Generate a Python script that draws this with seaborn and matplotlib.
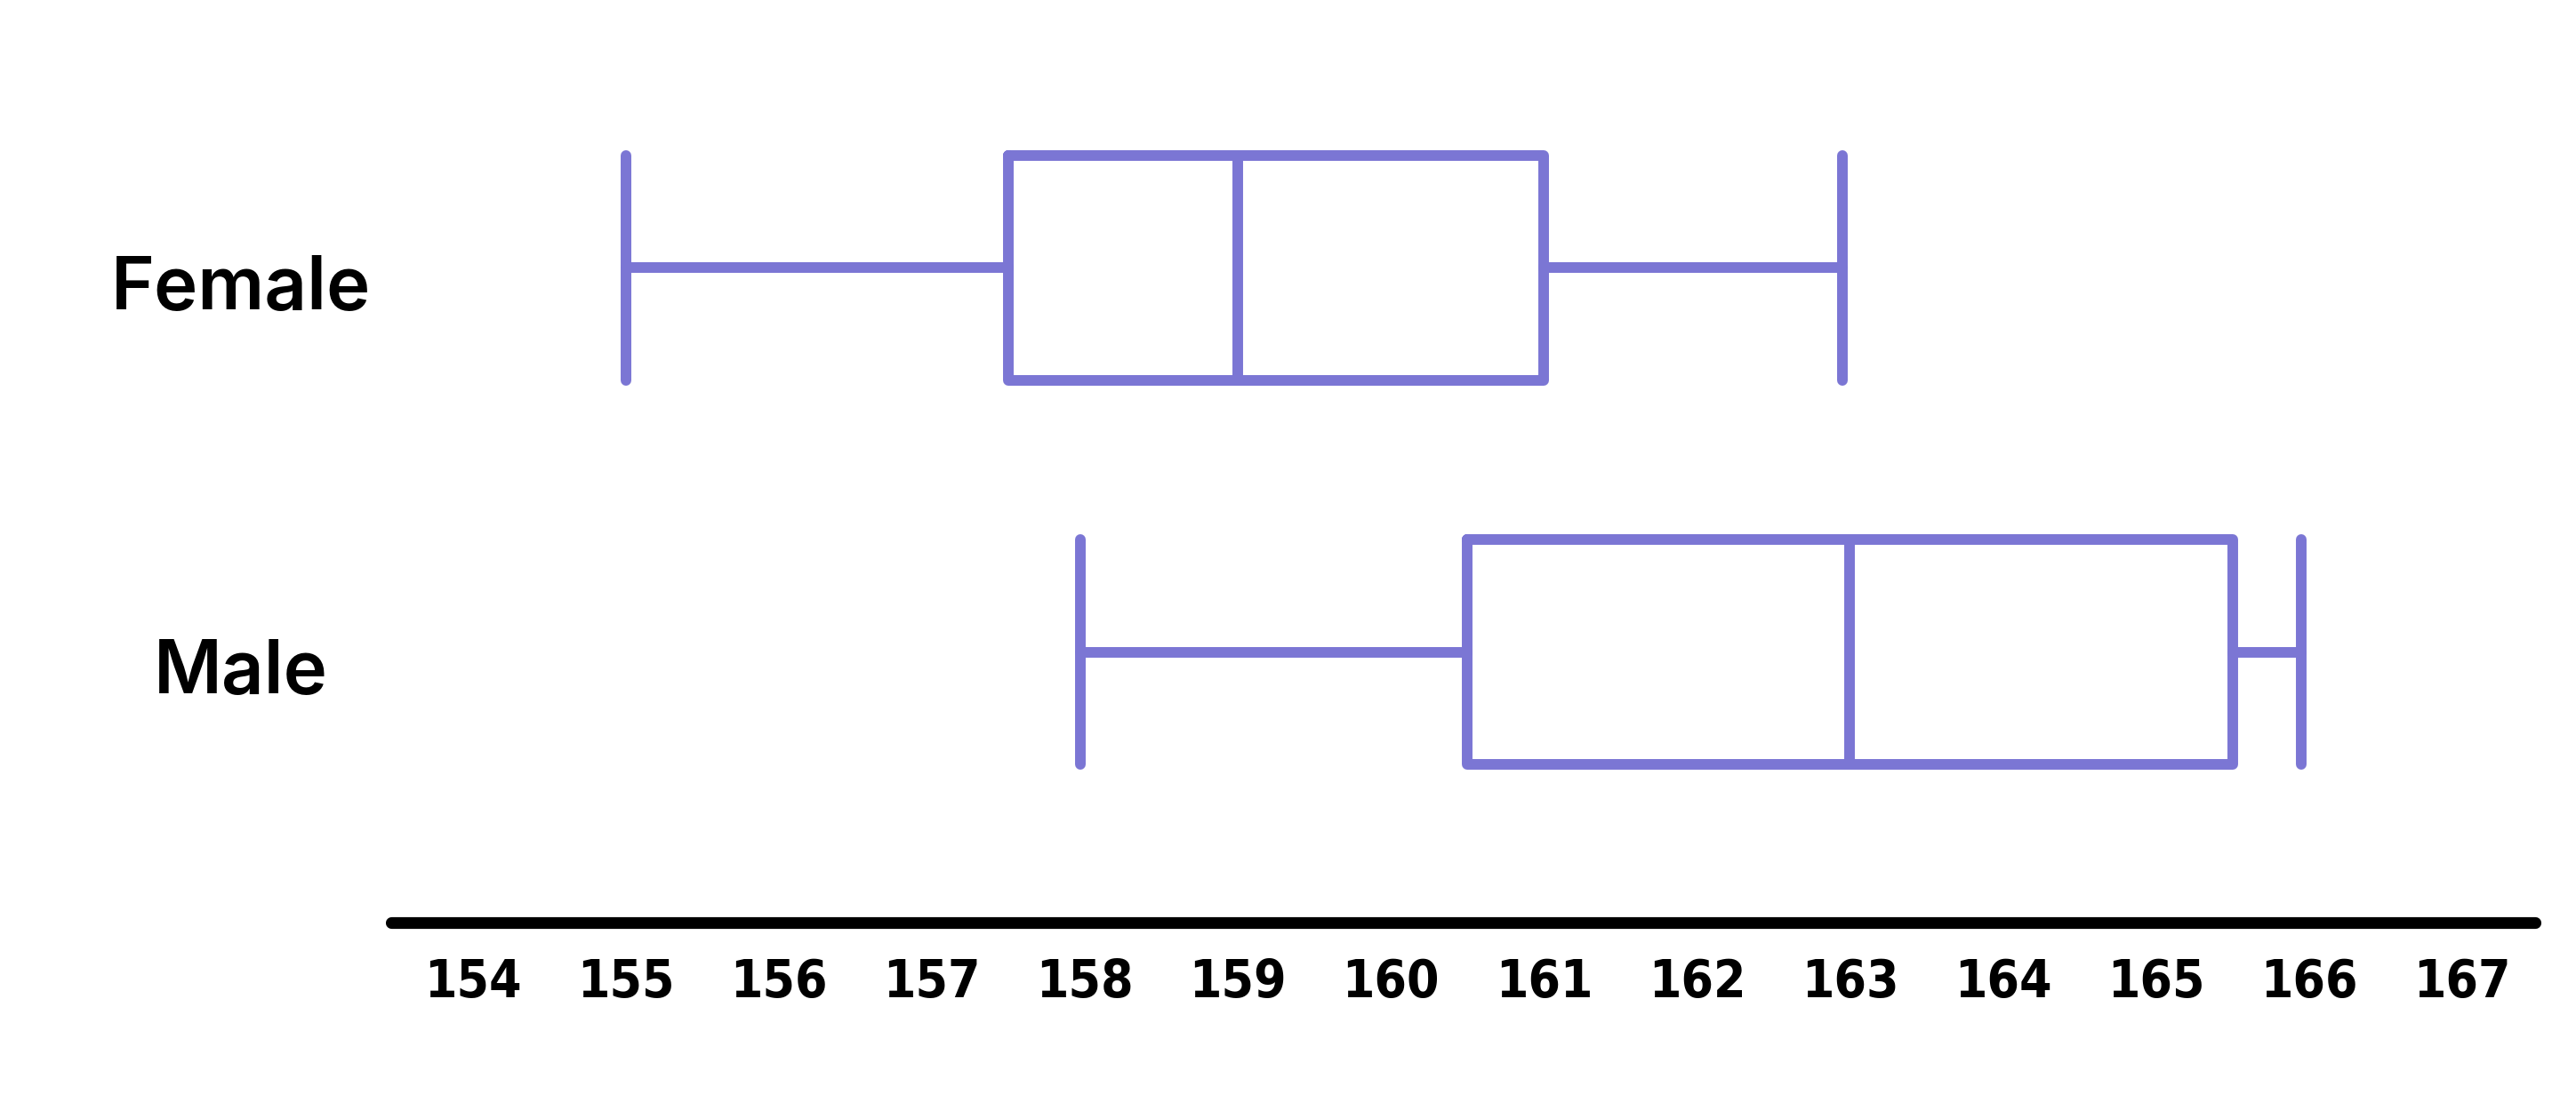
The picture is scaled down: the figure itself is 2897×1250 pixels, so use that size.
import matplotlib
matplotlib.use("Agg")
import matplotlib.pyplot as plt
import matplotlib.transforms as mtransforms
import pandas as pd
import seaborn as sns

# five-number summaries: min, Q1, median, Q3, max
GROUPS = ["Female", "Male"]
FEMALE = [155, 157.5, 159, 161, 162.95]
MALE = [157.97, 160.5, 163, 165.5, 165.95]
X_TICKS = list(range(154, 168))

PURPLE = "#7B76D4"

sns.set_style("white")
plt.rcParams["font.family"] = ["Inter", "DejaVu Sans"]

df = pd.DataFrame({
    "group": ["Female"] * len(FEMALE) + ["Male"] * len(MALE),
    "height": FEMALE + MALE,
})

fig = plt.figure(figsize=(28.97, 12.5), dpi=100)
ax = fig.add_axes([0.1519, 0.1696, 0.8323, 0.8304])

lw = 8.6
sns.boxplot(
    data=df, x="height", y="group", order=GROUPS, ax=ax,
    color=PURPLE, fill=False, linewidth=lw, width=0.585,
    whis=(0, 100), capwidths=0.585,
    boxprops=dict(solid_joinstyle="round"),
    whiskerprops=dict(solid_capstyle="round"),
    capprops=dict(solid_capstyle="round"),
    medianprops=dict(color=PURPLE, solid_capstyle="butt"),
)

ax.set_xlim(153.465, 167.48)
ax.set_ylim(1.704, -0.696)
ax.set_xticks(X_TICKS)
ax.set_xticklabels([str(t) for t in X_TICKS], family=["DejaVu Sans"],
                   fontweight="bold", fontstretch="condensed", fontsize=42,
                   color="black")
ax.set_yticks(range(len(GROUPS)))
ax.set_yticklabels(GROUPS, fontsize=60, fontweight="semibold", ha="center",
                   color="black")
ax.tick_params(axis="x", length=0, pad=28)
ax.tick_params(axis="y", length=0, pad=122)
ax.set_xlabel("")
ax.set_ylabel("")

# group labels sit a little below the box centres
shift = mtransforms.ScaledTranslation(0, -0.16, fig.dpi_scale_trans)
for lab in ax.get_yticklabels():
    lab.set_transform(lab.get_transform() + shift)

for side in ["top", "right", "left"]:
    ax.spines[side].set_visible(False)
ax.spines["bottom"].set_color("black")
ax.spines["bottom"].set_linewidth(9.5)
ax.spines["bottom"].set_capstyle("round")

fig.savefig("out.png", dpi=100, facecolor="white")
